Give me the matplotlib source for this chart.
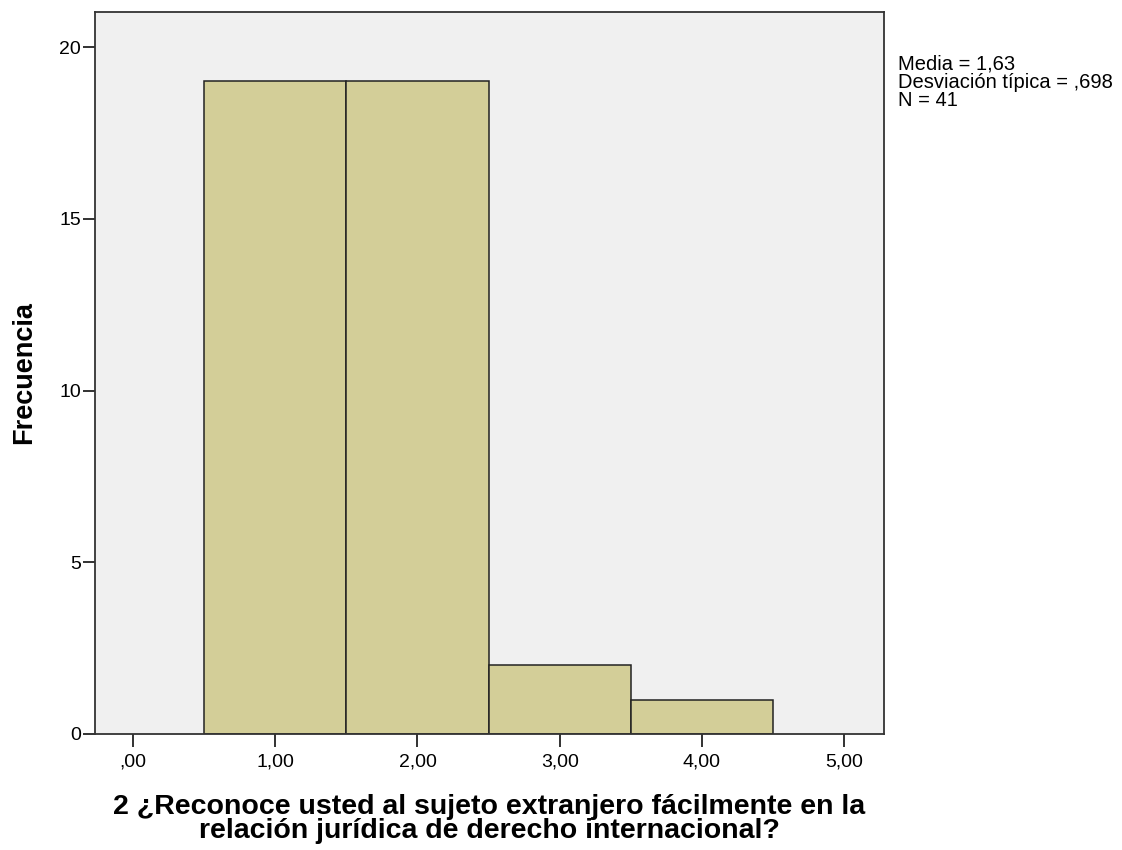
import matplotlib
matplotlib.use('Agg')
import matplotlib.pyplot as plt

# Datos del histograma
valores = [1, 2, 3, 4]
frecuencias = [19, 19, 2, 1]
xticks = [0, 1, 2, 3, 4, 5]
xtick_labels = [',00', '1,00', '2,00', '3,00', '4,00', '5,00']
yticks = [0, 5, 10, 15, 20]
stats_text = "Media = 1,63\nDesviación típica = ,698\nN = 41"

plt.rcParams['font.family'] = ['Liberation Sans', 'DejaVu Sans']

fig = plt.figure(figsize=(11.22, 8.5), dpi=100)
ax = fig.add_axes([95 / 1122, 1 - 734 / 850, 789 / 1122, 722 / 850])
ax.set_facecolor('#F0F0F0')

ax.bar(valores, frecuencias, width=1.0, color='#D3CE98', edgecolor='#222222', linewidth=1.1)

ax.set_xlim(-0.267, 5.28)
ax.set_ylim(0, 21.02)
ax.set_xticks(xticks)
ax.set_xticklabels(xtick_labels, fontsize=14)
ax.set_yticks(yticks)
ax.set_yticklabels([str(t) for t in yticks], fontsize=14)
ax.tick_params(axis='both', direction='out', length=9, width=1.3, color='#222222')
ax.tick_params(axis='x', pad=5)
ax.tick_params(axis='y', pad=1)

for s in ax.spines.values():
    s.set_color('#333333')
    s.set_linewidth(1.3)

ax.set_ylabel('Frecuencia', fontsize=19.5, fontweight='bold')
ax.yaxis.label.set_verticalalignment('center')
ax.yaxis.set_label_coords(-0.09, 0.5)

ax.set_xlabel('2 ¿Reconoce usted al sujeto extranjero fácilmente en la\nrelación jurídica de derecho internacional?',
              fontsize=20.5, fontweight='bold', linespacing=0.9)
ax.xaxis.label.set_verticalalignment('top')
ax.xaxis.set_label_coords(0.5, -0.083)

fig.text(898 / 1122, 1 - 54 / 850, stats_text, fontsize=14.5, va='top', ha='left', linespacing=0.98)

fig.savefig('out.png', dpi=100)
